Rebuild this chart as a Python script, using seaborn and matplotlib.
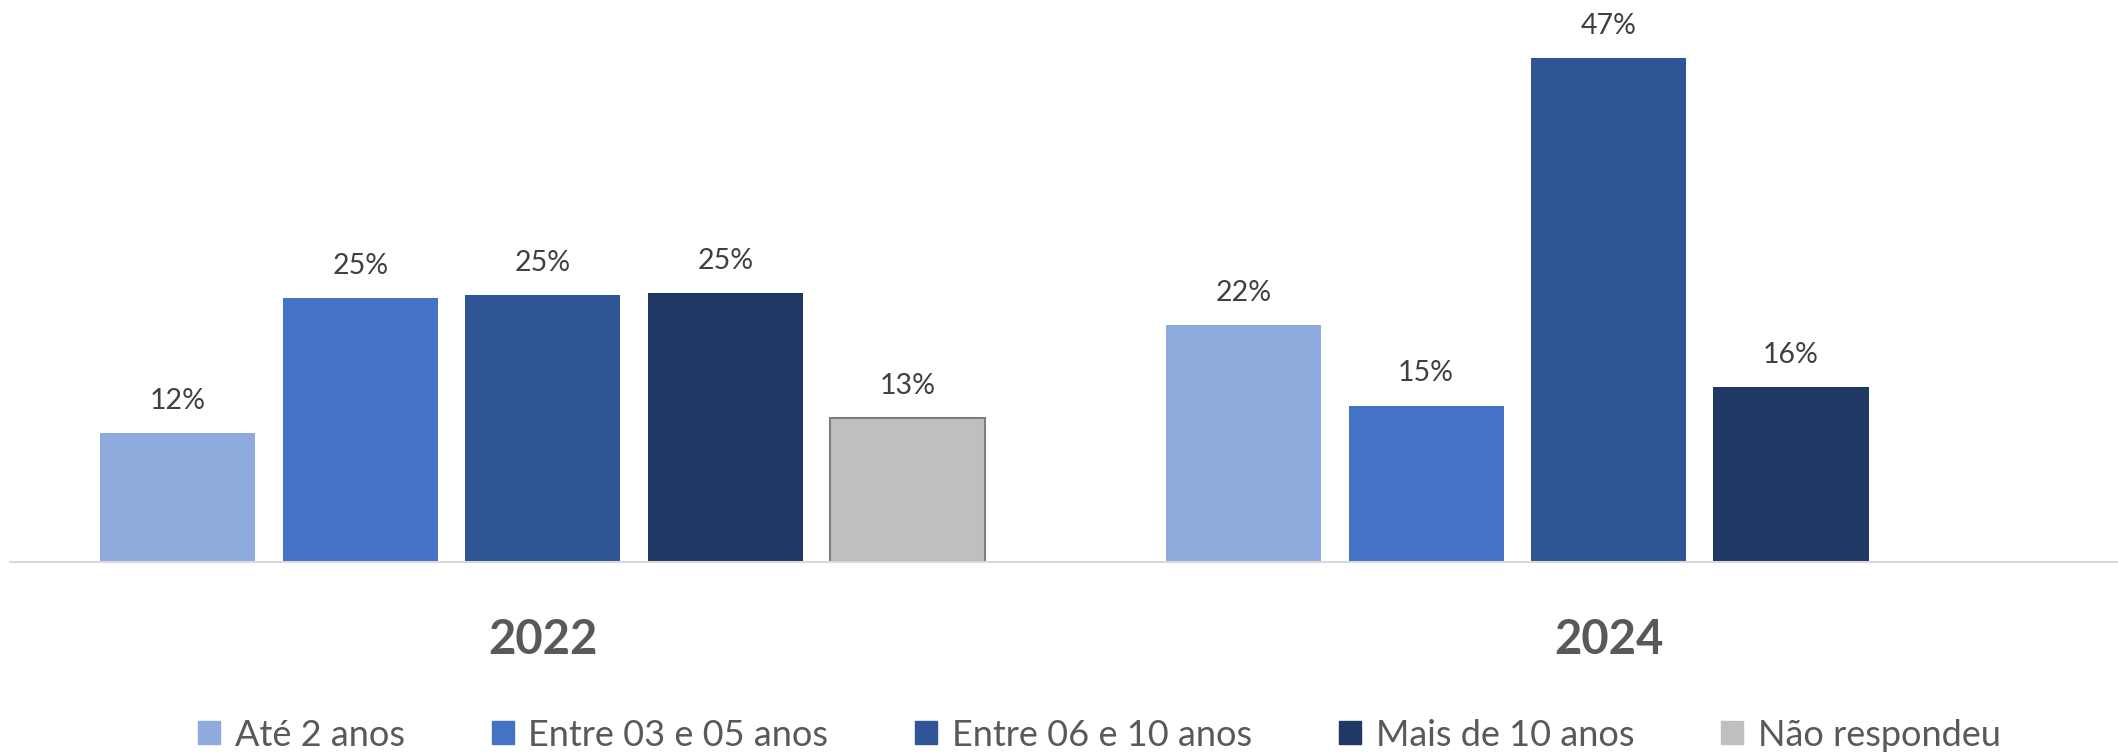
import numpy as np
import pandas as pd
import matplotlib
matplotlib.use("Agg")
import matplotlib.pyplot as plt
import seaborn as sns

years = ["2022", "2024"]
categories = ["Até 2 anos", "Entre 03 e 05 anos", "Entre 06 e 10 anos",
              "Mais de 10 anos", "Não respondeu"]
values_2022 = [12.0, 24.6, 24.9, 25.1, 13.4]
values_2024 = [22.1, 14.6, 47.0, 16.3, np.nan]
colors = ["#8FAADC", "#4472C4", "#2F5597", "#203864", "#BFBFBF"]

df = pd.DataFrame({
    "ano": [y for y in years for _ in categories],
    "tempo": categories * 2,
    "pct": values_2022 + values_2024,
})

sns.set_theme(style="white")
plt.rcParams["font.family"] = ["Lato", "DejaVu Sans"]

fig = plt.figure(figsize=(21.18, 7.55), dpi=100)
ax = fig.add_axes([10 / 2118, 193 / 755, 1 - 10 / 2118, 562 / 755])

sns.barplot(data=df, x="ano", y="pct", hue="tempo", order=years,
            hue_order=categories, palette=colors, width=0.856, gap=0.15,
            saturation=1, ax=ax, legend=True, linewidth=0)

for cont, cat in zip(ax.containers, categories):
    vals = cont.datavalues
    labels = ["" if np.isnan(v) else f"{v:.0f}%" for v in vals]
    ax.bar_label(cont, labels=labels, padding=14, fontsize=20.5, color="#404040")
    if cat == "Não respondeu":
        for p in cont.patches:
            p.set_edgecolor("#7F7F7F")
            p.set_linewidth(1.5)

ax.set_xlim(-0.5, 1.478)
ax.set_ylim(0, 52.43)
ax.set_xlabel("")
ax.set_ylabel("")
ax.set_yticks([])
ax.tick_params(axis="x", length=0, pad=40, labelsize=34, labelcolor="#595959")
for lbl in ax.get_xticklabels():
    lbl.set_fontweight("bold")
for s in ["top", "right", "left"]:
    ax.spines[s].set_visible(False)
ax.spines["bottom"].set_color("#D9D9D9")
ax.spines["bottom"].set_linewidth(1.5)

ax.get_legend().remove()
handles = [plt.Rectangle((0, 0), 1, 1, color=c) for c in colors]
fig.legend(handles, categories, loc="center", bbox_to_anchor=(0.519, 20 / 755),
           ncol=5, frameon=False, fontsize=26, labelcolor="#595959",
           handlelength=0.62, handleheight=0.62, handletextpad=0.4,
           columnspacing=2.4)

fig.savefig("out.png", dpi=100)
